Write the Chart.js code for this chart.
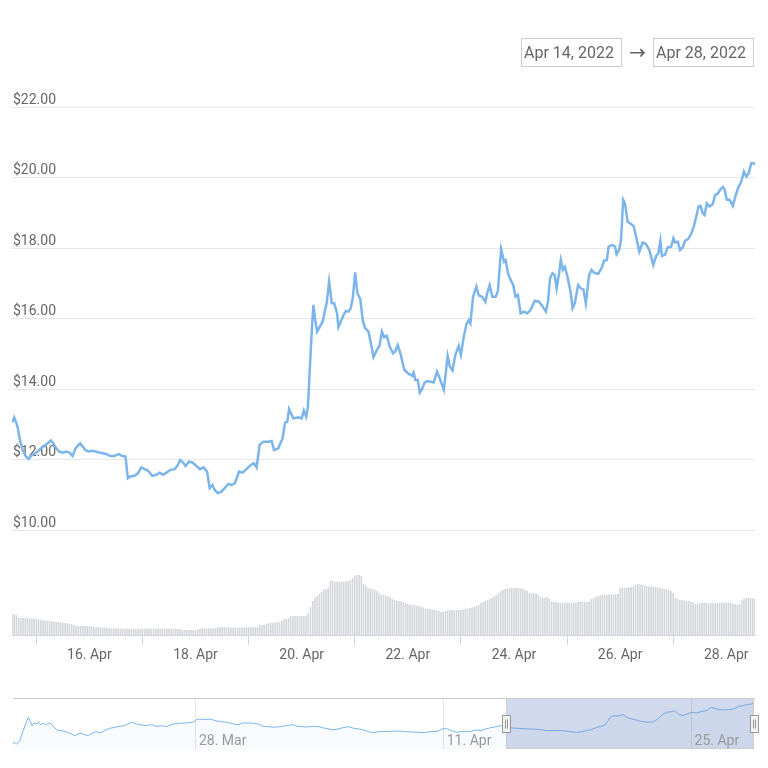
<!DOCTYPE html>
<html>
<head>
<meta charset="utf-8">
<script src="https://cdn.jsdelivr.net/npm/chart.js@4.4.1/dist/chart.umd.min.js"></script>
<style>
  html, body { margin: 0; padding: 0; background: #fff; }
  #wrap { position: relative; width: 768px; height: 768px; overflow: hidden; font-family: Roboto, "Noto Sans", sans-serif; }
  #main { position: absolute; left: 0; top: 0; }
  #nav { position: absolute; left: 0; top: 690px; }
  .range { position: absolute; top: 38px; height: 29px; width: 101px; box-sizing: border-box; border: 1px solid #cccccc;
           color: #666666; font-size: 16px; line-height: 27px; padding-left: 2px; white-space: nowrap; }
  #arrow { position: absolute; left: 629px; top: 38px; color: #666666; font-size: 20px; line-height: 29px; font-family: "DejaVu Sans", sans-serif; }
</style>
</head>
<body>
<div id="wrap">
  <canvas id="main" width="768" height="680"></canvas>
  <canvas id="nav" width="768" height="66"></canvas>
  <div class="range" id="rangeFrom" style="left:521px"></div>
  <div id="arrow">→</div>
  <div class="range" id="rangeTo" style="left:653px"></div>
</div>
<script>
// hours counted from 14 Apr 2022 00:00
const rangeStart = 13;
const rangeEnd = 349;
const rangeLabels = ['Apr 14, 2022', 'Apr 28, 2022'];

const dateTicks = [48, 96, 144, 192, 240, 288, 336];
const dateLabels = ['16. Apr', '18. Apr', '20. Apr', '22. Apr', '24. Apr', '26. Apr', '28. Apr'];
const priceTicks = [10, 12, 14, 16, 18, 20, 22];

const navTicks = [-408, -72, 264];
const navLabels = ['28. Mar', '11. Apr', '25. Apr'];

const priceHours = [
  13,14,15.5,16.6,17.8,19.3,20.5,21.5,23,24.6,
  26,27.6,29,30.6,31.7,33,34.4,36,37.4,39,
  40.4,41.7,42.7,43.8,45,46.2,47.7,49.2,50.7,52.5,
  54,55.6,57.4,59.3,61.3,62.8,64.3,65.4,66.5,68.4,
  70,71.4,73,74.5,76.4,78.2,79.8,81.3,82.8,84.6,
  86.6,88,89,90.3,91.5,93,94.6,96.4,98,99.7,
  101.2,102.4,103.6,104.7,106,107.7,109.2,110.8,112.3,113.8,
  115.7,117.3,119,121,122.4,123.6,125,126.6,129,130.4,
  131.5,133.4,135.4,136.5,137.5,138.3,140.2,142.5,144,145,
  146,146.8,148.5,149.3,150,151,152.3,153.5,154.6,155.3,
  156.4,157.6,158.7,160,160.6,161.7,163,164,165.2,166.2,
  167.1,168.2,169.2,170.5,171.7,172.7,174.2,175.3,176.5,178,
  179.2,180.3,181.3,182.5,183.8,185.3,186.3,187.4,188.6,190.4,
  192.4,194,194.6,195.4,196.5,197.4,198.4,199.5,200.7,202.2,
  203.7,205.2,206.4,208.3,210,211,212.2,213.5,215,216,
  217.3,218.5,219.6,220.3,221.5,223,224.1,225.6,227.1,227.9,
  229,230.2,231.7,232.7,234.2,235.5,236.2,237.3,238.5,239.7,
  240.7,241.8,243,244.5,246,247.5,249.4,251.3,252.8,254.4,
  255.4,256.3,257.4,258.4,259.3,260.4,261.2,262.1,263,264.2,
  265.7,266.5,267.5,269,270.2,271.4,272.5,274,275.1,276.3,
  278.1,279.6,280.8,282,282.8,284.6,285.7,286.4,287.6,288.4,
  289.4,290.2,291.4,292.6,294.1,295.2,296.7,298.2,299.7,301.2,
  303,304.3,305.3,306.2,306.9,308.3,309.5,311.1,312.1,312.9,
  314.1,315.1,316.3,317.4,318.6,320.1,321.3,322.4,323.5,324.4,
  325.4,326.2,327.2,328.4,329.9,331,332.2,333.4,334.5,335.2,
  336.3,337.5,339,340.1,341.3,342.8,344,345.1,346.1,347.3,
  348.5,349
];
const priceValues = [
  13.06,13.21,12.95,12.57,12.28,12.10,12.03,12.11,12.17,12.24,
  12.33,12.40,12.47,12.55,12.47,12.33,12.24,12.21,12.24,12.21,
  12.11,12.33,12.40,12.47,12.38,12.28,12.24,12.26,12.24,12.21,
  12.19,12.17,12.11,12.11,12.17,12.11,12.10,11.48,11.53,11.55,
  11.62,11.79,11.74,11.70,11.55,11.58,11.64,11.58,11.64,11.72,
  11.74,11.86,12.00,11.93,11.83,11.95,11.93,11.83,11.74,11.79,
  11.67,11.20,11.29,11.15,11.06,11.10,11.20,11.32,11.29,11.34,
  11.67,11.64,11.74,11.86,11.91,11.79,12.43,12.52,12.52,12.54,
  12.28,12.33,12.62,13.06,13.09,13.44,13.18,13.21,13.18,13.40,
  13.23,13.50,15.60,16.40,16.02,15.64,15.79,15.93,16.26,16.45,
  17.06,16.45,16.45,16.16,15.77,15.93,16.12,16.23,16.21,16.31,
  16.59,17.32,16.73,16.56,15.93,15.74,15.64,15.31,14.92,15.12,
  15.24,15.64,15.48,15.52,15.22,15.03,15.08,15.26,15.03,14.56,
  14.44,14.39,14.48,14.27,14.27,13.91,14.01,14.18,14.24,14.22,
  14.20,14.51,14.32,13.99,14.95,14.65,14.54,14.98,15.24,14.98,
  15.50,15.85,15.97,15.88,16.63,16.92,16.67,16.63,16.49,16.73,
  16.96,16.63,16.63,16.78,17.98,17.63,17.67,17.30,17.11,16.96,
  16.63,16.68,16.16,16.21,16.16,16.26,16.52,16.49,16.37,16.21,
  16.49,17.15,17.30,17.25,16.87,17.30,17.67,17.39,17.48,17.20,
  16.73,16.30,16.44,16.96,16.87,16.84,16.44,17.25,17.39,17.31,
  17.28,17.44,17.66,17.67,18.05,18.10,18.05,17.84,17.96,18.24,
  19.38,19.28,18.76,18.71,18.64,18.34,17.91,18.17,18.13,17.96,
  17.53,17.79,17.86,18.22,17.79,17.82,18.03,18.05,18.29,18.17,
  18.19,17.96,18.03,18.22,18.26,18.41,18.62,18.90,19.19,19.21,
  19.00,18.95,19.28,19.19,19.26,19.52,19.56,19.68,19.74,19.68,
  19.38,19.38,19.21,19.47,19.71,19.90,20.18,20.04,20.13,20.42,
  20.42,20.37
];

// hourly volume, first bar at hour 13 (arbitrary units)
const volumeStartHour = 13;
const volumeValues = [
  21,20.5,20,17.5,17,17,17,16.8,16.8,16.5,16,
  16,15.5,15,15,14.3,14.3,14,14,13.3,13,13,12.7,12,12,11.7,11.3,10.7,10.3,9.3,9,9.2,9,9.1,9,
  9,8.8,7.8,7.7,7.7,7.7,7.5,7.5,7.3,6.8,6.7,6.7,6.7,6.5,6.5,6.5,6.5,6.3,6.3,6.3,6.3,6.3,6.3,6.3,
  6.3,6.3,6.5,6.3,6.3,6.3,6.3,6.5,6.3,6.3,6.3,6.3,6.5,6.3,6.3,6.3,6.3,6,5.2,5,5,5,5,5,
  5,5.3,6.5,6.7,6.7,6.7,6.7,6.8,6.8,7,7.7,7.7,7.7,7.7,7.7,7.7,7.5,7.5,7.5,7.5,7.5,7.5,7.5,7.7,
  7.7,7.7,7.7,7.7,8,9.7,10,10.3,11,12,12.3,12.3,12.5,12.7,13,14,15.7,16,17,18.7,19,19,19,19,
  19,19,19.3,22,28,34,37,39,41,43,45.7,46,47,54,54.5,53,53.3,53.3,53.7,53.3,53.7,54,55,57,
  59.5,60,60,59,51,49,47,46.5,46,45,44,42,40.5,40,39.5,38.5,38,36,35,34.5,34,33.5,33,32,
  31,30.5,30,30,29.5,29,28,27.5,26.5,26,26,25.5,25,24.5,24,23.3,23,24,24.5,25,25,25,25,25,
  25.5,25.5,26,26.5,27,27.5,28,29,30,32,33,34,35,36,37,38.5,40,42,44,45,46,46.5,47,47,
  47,47.3,47,46.5,46,45,44,42,41.7,41.7,41.5,40,38,37.3,37.3,38,36,33.5,33.3,33,32.3,32.3,32,32.3,
  32.3,32.3,32.5,32.3,32.3,33,33.3,33.3,33.3,33,33.5,36,37,38,39,39.5,40.5,40.5,40,40.7,40.7,40,41,41,
  47,47.3,47.3,47.3,47.5,48,49,50,50.7,50.7,50,49.5,49,48.5,48.3,48.5,48,47.5,47,46.5,46,45.5,45,44,
  42,37,36,35,35,34.5,34,34,33.5,33,31.5,31.5,32,32,32.3,32,31.7,32,32,32.3,32.3,32.5,32.3,32.3,
  32.3,32.3,32,31.5,30.7,30.5,31,35,36.5,36.7,37,37,36.7,36
];

const navHours = [
  -656,-654,-651,-647,-643,-638,-635,-633,-630,-628,
  -625,-621,-619,-615,-612,-609,-606,-602,-597,-591,
  -584,-577,-572,-568,-563,-559,-554,-548,-543,-538,
  -532,-525,-518,-511,-505,-495,-489,-482,-475,-468,
  -461,-455,-448,-439,-430,-421,-412,-407,-403,-396,
  -389,-382,-375,-366,-357,-351,-344,-337,-330,-323,
  -317,-310,-303,-294,-285,-276,-271,-264,-258,-249,
  -242,-235,-228,-221,-212,-206,-201,-194,-187,-181,
  -174,-167,-160,-153,-144,-135,-125,-116,-107,-98,
  -89,-80,-76,-71,-67,-62,-55,-48,-42,-35,
  -28,-21,-15,-8,-1,6,13,20,29,42,
  56,69,83,97,108,115,121,128,137,146,
  151,155,160,164,171,176,183,192,198,205,
  212,217,223,230,237,241,246,251,257,264,
  271,278,284,291,296,300,307,314,321,328,
  334,341,346,349
];
const navValues = [
  7.34,7.87,7.34,8.39,11.0,14.14,15.70,14.66,13.09,13.93,
  13.61,14.14,13.40,13.82,13.30,13.61,13.93,13.09,11.73,11.52,
  11.21,10.48,9.95,10.48,10.69,10.27,9.95,10.79,11.21,10.79,
  11.52,12.25,12.57,12.88,13.09,14.14,13.61,13.30,13.09,13.40,
  12.78,13.09,12.78,13.61,13.82,13.93,14.14,14.97,15.18,14.97,
  15.18,14.66,14.34,14.14,13.61,13.40,13.93,13.93,13.82,13.61,
  12.88,12.78,12.57,12.78,13.09,13.40,12.88,12.78,12.67,12.88,
  12.78,12.36,12.05,11.73,12.25,12.57,12.78,12.25,12.05,11.73,
  11.21,10.90,11.21,11.21,11.31,11.42,11.21,11.10,11.0,10.90,
  11.21,11.31,11.84,12.25,12.05,11.52,11.0,11.21,11.21,11.31,
  11.73,11.52,12.05,12.46,12.78,13.09,13.06,12.36,12.25,12.05,
  11.94,11.52,11.63,11.31,10.90,11.21,11.52,11.84,12.67,13.2,
  14.66,16.02,16.23,16.02,16.54,15.70,15.18,14.66,14.34,14.14,
  14.34,14.97,16.23,17.27,17.48,17.79,16.75,16.23,16.64,17.27,
  17.06,17.58,17.79,18.84,18.52,18.11,18.0,18.11,18.32,19.15,
  19.36,19.78,19.88,20.4
];

document.getElementById('rangeFrom').textContent = rangeLabels[0];
document.getElementById('rangeTo').textContent = rangeLabels[1];

Chart.defaults.font.family = 'Roboto, "Noto Sans", sans-serif';
Chart.defaults.color = '#666666';

const pricePoints = priceHours.map((h, i) => ({ x: h, y: priceValues[i] }));
const volumePoints = volumeValues.map((v, i) => ({ x: volumeStartHour + i, y: v }));
const navPoints = navHours.map((h, i) => ({ x: h, y: navValues[i] }));

const mainChart = new Chart(document.getElementById('main'), {
  type: 'line',
  data: {
    datasets: [
      {
        type: 'line',
        data: pricePoints,
        borderColor: '#7cb5ec',
        borderWidth: 2.5,
        pointRadius: 0,
        tension: 0,
        yAxisID: 'y',
        order: 1
      },
      {
        type: 'bar',
        data: volumePoints,
        backgroundColor: '#d3d5d9',
        barPercentage: 0.72,
        categoryPercentage: 1,
        inflateAmount: 0,
        yAxisID: 'yv',
        order: 2
      }
    ]
  },
  options: {
    responsive: false,
    animation: false,
    layout: { padding: { left: 12, right: 13, top: 80, bottom: 0 } },
    plugins: { legend: { display: false }, tooltip: { enabled: false } },
    scales: {
      x: {
        type: 'linear',
        min: rangeStart,
        max: rangeEnd,
        offset: false,
        afterBuildTicks: s => { s.ticks = dateTicks.map(v => ({ value: v })); },
        afterFit: s => { s.height = 45; },
        grid: { drawOnChartArea: false, drawTicks: true, tickLength: 10, color: '#ccd6eb' },
        border: { color: '#ccd6eb' },
        ticks: {
          autoSkip: false, maxRotation: 0, padding: 2,
          font: { size: 14 },
          callback: v => dateLabels[dateTicks.indexOf(v)]
        }
      },
      y: {
        position: 'left',
        min: 7.035,
        max: 22.78,
        afterBuildTicks: s => { s.ticks = priceTicks.map(v => ({ value: v })); },
        afterFit: s => { s.width = 0; },
        grid: { color: '#e6e6e6', drawTicks: false },
        border: { display: false },
        ticks: {
          mirror: true, padding: 1, labelOffset: -7,
          font: { size: 14 },
          callback: v => '$' + v.toFixed(2)
        }
      },
      yv: { display: false, min: 0, max: 555 }
    }
  }
});

// navigator: selected range mask, outline, handles and the date labels inside the plot
const navOverlay = {
  id: 'navOverlay',
  afterDraw(chart) {
    const { ctx, chartArea: a, scales: { x } } = chart;
    const x0 = Math.round(x.getPixelForValue(rangeStart));
    const x1 = Math.round(x.getPixelForValue(rangeEnd));
    ctx.save();
    ctx.fillStyle = 'rgba(102,133,194,0.3)';
    ctx.fillRect(x0, a.top, x1 - x0, a.bottom - a.top);

    ctx.font = '14px Roboto, "Noto Sans", sans-serif';
    ctx.fillStyle = '#999999';
    ctx.textBaseline = 'alphabetic';
    ctx.textAlign = 'left';
    navTicks.forEach((t, i) => {
      ctx.fillText(navLabels[i], x.getPixelForValue(t) + 3, a.bottom - 4.5);
    });

    ctx.strokeStyle = '#cccccc';
    ctx.lineWidth = 1;
    ctx.beginPath();
    ctx.moveTo(a.left, Math.round(a.top) + 0.5);
    ctx.lineTo(a.right, Math.round(a.top) + 0.5);
    ctx.moveTo(x0 + 0.5, a.top);
    ctx.lineTo(x0 + 0.5, Math.round(a.bottom) - 0.5);
    ctx.lineTo(x1 - 0.5, Math.round(a.bottom) - 0.5);
    ctx.lineTo(x1 - 0.5, a.top);
    ctx.stroke();

    const w = 8, h = 17, cy = (a.top + a.bottom) / 2;
    [x0, x1].forEach(px => {
      const lx = Math.round(px - w / 2) + 0.5;
      const ty = Math.round(cy - h / 2) + 0.5;
      ctx.fillStyle = '#f2f2f2';
      ctx.strokeStyle = '#999999';
      ctx.fillRect(lx, ty, w, h);
      ctx.strokeRect(lx, ty, w, h);
      ctx.beginPath();
      ctx.moveTo(lx + 3, ty + 4); ctx.lineTo(lx + 3, ty + h - 4);
      ctx.moveTo(lx + 5, ty + 4); ctx.lineTo(lx + 5, ty + h - 4);
      ctx.stroke();
    });
    ctx.restore();
  }
};

const navChart = new Chart(document.getElementById('nav'), {
  type: 'line',
  data: {
    datasets: [{
      data: navPoints,
      borderColor: '#7cb5ec',
      borderWidth: 1,
      pointRadius: 0,
      tension: 0,
      fill: 'start',
      backgroundColor: 'rgba(124,181,236,0.05)'
    }]
  },
  options: {
    responsive: false,
    animation: false,
    layout: { padding: { left: 13, right: 13, top: 8, bottom: 7 } },
    plugins: { legend: { display: false }, tooltip: { enabled: false } },
    scales: {
      x: {
        type: 'linear',
        min: -656,
        max: 350,
        afterBuildTicks: s => { s.ticks = navTicks.map(v => ({ value: v })); },
        afterFit: s => { s.height = 0; },
        grid: { color: '#e6e6e6', drawTicks: false },
        border: { display: false },
        ticks: { display: false }
      },
      y: { display: false, min: 5.76, max: 21.75 }
    }
  },
  plugins: [navOverlay]
});
</script>
</body>
</html>
